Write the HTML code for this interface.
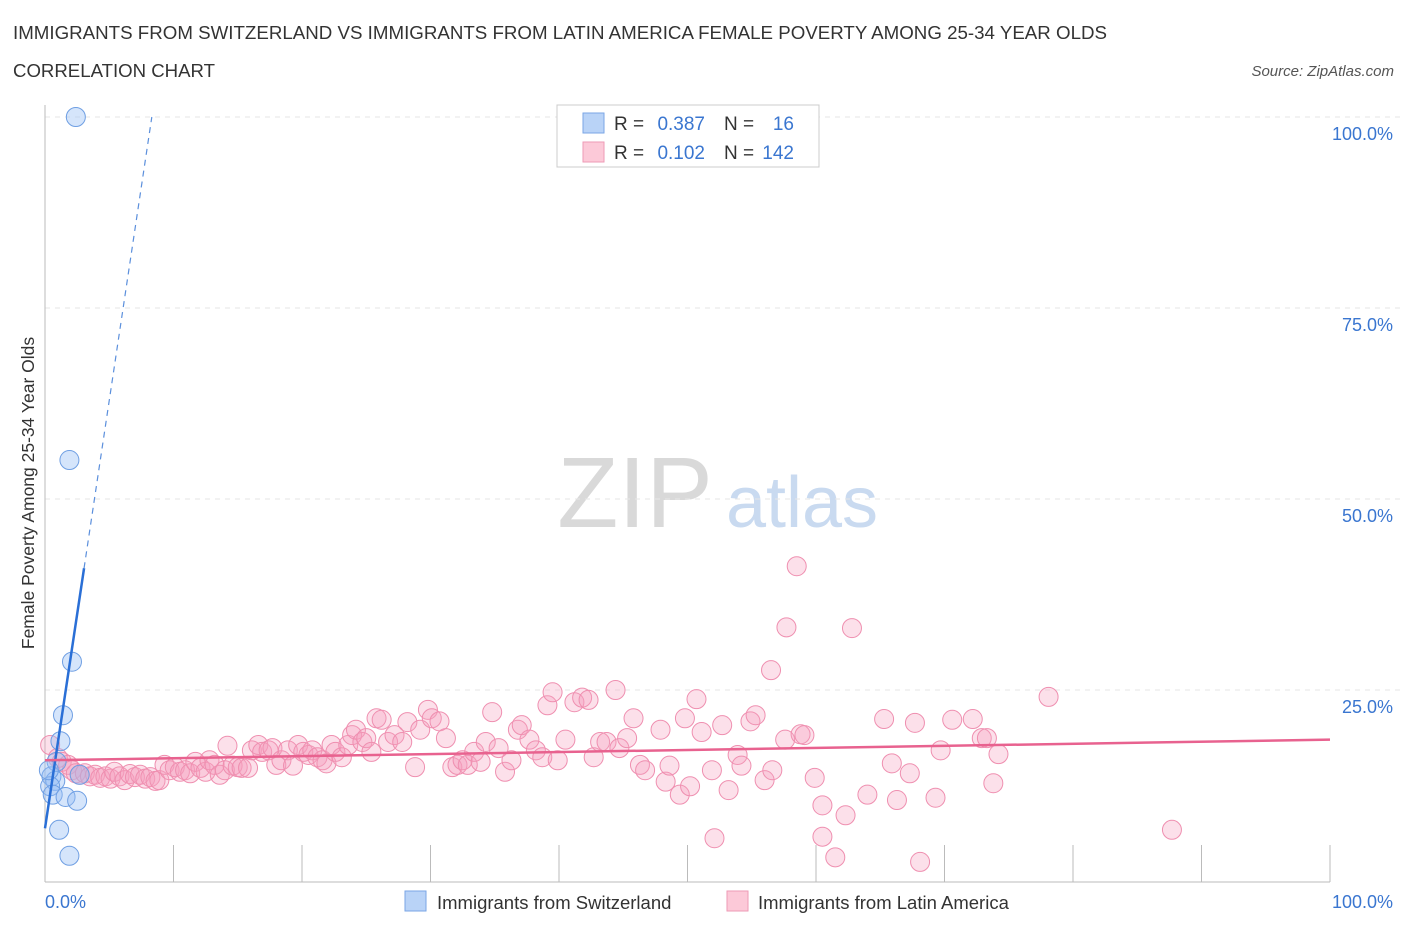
<!DOCTYPE html>
<html><head><meta charset="utf-8"><style>
body{margin:0;background:#fff;font-family:"Liberation Sans",sans-serif}
svg text{font-family:"Liberation Sans",sans-serif}
</style></head><body>
<svg id="chart" width="1406" height="930" xmlns="http://www.w3.org/2000/svg">
<text x="13" y="39" font-size="18" fill="#333" textLength="1094" lengthAdjust="spacingAndGlyphs">IMMIGRANTS FROM SWITZERLAND VS IMMIGRANTS FROM LATIN AMERICA FEMALE POVERTY AMONG 25-34 YEAR OLDS</text>
<text x="13" y="77" font-size="18" fill="#333" textLength="202" lengthAdjust="spacingAndGlyphs">CORRELATION CHART</text>
<text x="1394" y="76" font-size="15" fill="#555" text-anchor="end" font-style="italic">Source: ZipAtlas.com</text>
<g>
<text x="635" y="527" font-size="100" fill="#d9d9d9" font-family="Liberation Serif,serif" text-anchor="middle">ZIP</text>
<text x="802" y="527" font-size="72" fill="#c9daf0" text-anchor="middle">atlas</text>
</g>
<g id="grid"></g>
<g id="axes"></g>
<g id="points"></g>
<g id="lines"></g>
<text transform="translate(34,493) rotate(-90)" font-size="17.5" fill="#333" text-anchor="middle">Female Poverty Among 25-34 Year Olds</text>
<g>
<rect x="557" y="105" width="262" height="62" fill="#fff" stroke="#ccc"/>
<rect x="583" y="113" width="21" height="20" fill="#b9d3f7" stroke="#7aa6e6"/>
<rect x="583" y="142" width="21" height="20" fill="#fcc9d8" stroke="#ee9ab6"/>
<text x="614" y="130" font-size="19" fill="#333">R =</text>
<text x="705" y="130" font-size="19" fill="#3a76d0" text-anchor="end">0.387</text>
<text x="724" y="130" font-size="19" fill="#333">N =</text>
<text x="794" y="130" font-size="19" fill="#3a76d0" text-anchor="end">16</text>
<text x="614" y="159" font-size="19" fill="#333">R =</text>
<text x="705" y="159" font-size="19" fill="#3a76d0" text-anchor="end">0.102</text>
<text x="724" y="159" font-size="19" fill="#333">N =</text>
<text x="794" y="159" font-size="19" fill="#3a76d0" text-anchor="end">142</text>
</g>
<g>
<rect x="405" y="891" width="21" height="20" fill="#b9d3f7" stroke="#7aa6e6"/>
<text x="437" y="909" font-size="18.5" fill="#333">Immigrants from Switzerland</text>
<rect x="727" y="891" width="21" height="20" fill="#fcc9d8" stroke="#ee9ab6"/>
<text x="758" y="909" font-size="18.5" fill="#333">Immigrants from Latin America</text>
</g>
</svg>
<script>
const yTicks=[25,50,75,100];
const yTickLabels=["25.0%","50.0%","75.0%","100.0%"];
const xTickLabels=["0.0%","100.0%"];
const blueX=[2.4,1.9,2.1,1.4,1.2,0.9,0.5,0.8,0.4,0.6,1.6,2.5,1.1,1.9,0.3,2.7];
const blueY=[100,55.1,28.7,21.7,18.3,15.6,13.7,13.1,12.4,11.3,11.0,10.5,6.7,3.3,14.5,13.9];
const pinkX=[0.4,1.0,1.3,1.8,2.1,2.4,2.7,3.1,3.5,3.9,4.3,4.7,5.1,5.4,5.8,6.2,6.6,7.0,7.4,7.8,8.2,8.6,8.9,9.3,9.7,10.1,10.5,10.9,11.3,11.7,12.1,12.5,12.8,13.2,13.6,14.0,14.2,14.6,15.0,15.3,15.8,16.1,16.6,16.9,17.4,17.7,18.0,18.4,18.9,19.3,19.7,20.1,20.5,20.8,21.2,21.6,21.9,22.3,22.6,23.1,23.6,23.9,24.2,24.7,25.0,25.4,25.8,26.2,26.7,27.2,27.8,28.2,28.8,29.2,29.8,30.1,30.7,31.2,31.7,32.1,32.5,32.9,33.4,33.9,34.3,34.8,35.3,35.8,36.3,36.8,37.1,37.7,38.2,38.7,39.1,39.5,39.9,40.5,41.2,41.8,42.3,42.7,43.2,43.7,44.4,44.7,45.3,45.8,46.3,46.7,47.9,48.3,48.6,49.4,49.8,50.2,50.7,51.1,51.9,52.1,52.7,53.2,53.9,54.2,54.9,55.3,56.0,56.6,56.5,57.6,57.7,58.5,58.8,59.1,59.9,60.5,60.5,61.5,62.3,62.8,64.0,65.3,65.9,66.3,67.3,67.7,68.1,69.3,69.7,70.6,72.2,72.9,73.3,73.8,74.2,78.1,87.7];
const pinkY=[17.8,16.1,15.6,15.2,14.5,14.1,13.9,14.1,13.7,13.9,13.5,13.7,13.4,14.3,13.7,13.2,14.0,13.6,13.9,13.4,13.6,13.1,13.2,15.2,14.5,14.9,14.3,14.5,14.1,15.6,14.8,14.3,15.8,15.2,13.9,14.5,17.7,15.1,14.9,14.8,14.8,17.1,17.8,16.9,17.1,17.4,15.2,15.8,17.1,15.1,17.8,16.9,16.5,17.1,16.2,15.8,15.4,17.8,16.9,16.2,17.8,19.1,19.8,18.2,18.7,16.9,21.3,21.1,18.2,19.1,18.2,20.8,14.9,19.8,22.4,21.3,20.9,18.7,14.9,15.2,15.8,15.2,16.9,15.6,18.2,22.1,17.4,14.3,15.8,19.8,20.4,18.5,17.1,16.2,23.0,24.7,15.8,18.5,23.4,24.0,23.7,16.2,18.2,18.2,25.0,17.4,18.7,21.3,15.2,14.5,19.8,13.0,15.1,11.3,21.3,12.4,23.8,19.5,14.5,5.6,20.4,11.9,16.5,15.1,20.9,21.7,13.2,14.5,27.6,18.5,33.2,41.2,19.2,19.1,13.5,9.9,5.8,3.1,8.6,33.1,11.3,21.2,15.4,10.6,14.1,20.7,2.5,10.9,17.1,21.1,21.2,18.7,18.7,12.8,16.6,24.1,6.7];
const blueTrend=[6.9,11.2]; // intercept, slope
const pinkTrend=[15.8,18.5]; // y at x=0, y at x=100
const X0=45,X1=1330,Y0=881,Y100=117;
const sx=v=>X0+(X1-X0)*v/100, sy=v=>Y0-(Y0-Y100)*v/100;
const NS="http://www.w3.org/2000/svg";
function mk(tag,attrs,parent,txt){const e=document.createElementNS(NS,tag);for(const k in attrs)e.setAttribute(k,attrs[k]);if(txt!==undefined)e.textContent=txt;document.getElementById(parent).appendChild(e);return e;}
yTicks.forEach((t,i)=>{
 const g=mk('line',{x1:X0,x2:1400,y1:sy(t),y2:sy(t),stroke:'#e6e6e6','stroke-width':1,'stroke-dasharray':'5 5'},'grid');
 
 
 const l=mk('text',{x:1393,y:sy(t)+23,'font-size':18,fill:'#3a76d0','text-anchor':'end'},'grid',yTickLabels[i]);
 
 
});
const ya=mk('line',{x1:X0,x2:X0,y1:105,y2:882,stroke:'#bbb'},'axes');


const xa=mk('line',{x1:X0,x2:X1,y1:882,y2:882,stroke:'#bbb'},'axes');


for(let i=0;i<=10;i++){const t=mk('line',{x1:sx(i*10),x2:sx(i*10),y1:845,y2:882,stroke:'#bbb'},'axes');
 
 }
const xl0=mk('text',{x:45,y:908,'font-size':18,fill:'#3a76d0'},'axes',xTickLabels[0]);


const xl1=mk('text',{x:1393,y:908,'font-size':18,fill:'#3a76d0','text-anchor':'end'},'axes',xTickLabels[1]);


pinkX.forEach((x,i)=>{const c=mk('circle',{cx:sx(x),cy:sy(pinkY[i]),r:9.5,fill:'rgba(246,160,190,0.32)',stroke:'#ef8fb0','stroke-width':1},'points');
 
 });
blueX.forEach((x,i)=>{const c=mk('circle',{cx:sx(x),cy:sy(blueY[i]),r:9.5,fill:'rgba(150,190,245,0.4)',stroke:'#6f9fe3','stroke-width':1},'points');
 
 });
const bs=mk('line',{x1:sx(0),y1:sy(blueTrend[0]),x2:sx(3.04),y2:sy(blueTrend[0]+blueTrend[1]*3.04),stroke:'#2a6fd6','stroke-width':2.5},'lines');


const xe=(100-blueTrend[0])/blueTrend[1];
const bd=mk('line',{x1:sx(3.04),y1:sy(blueTrend[0]+blueTrend[1]*3.04),x2:sx(xe),y2:sy(100),stroke:'#5b8fdc','stroke-width':1.2,'stroke-dasharray':'6 5'},'lines');


const pl=mk('line',{x1:sx(0),y1:sy(pinkTrend[0]),x2:sx(100),y2:sy(pinkTrend[1]),stroke:'#e8628f','stroke-width':2.5},'lines');


</script>
</body></html>
